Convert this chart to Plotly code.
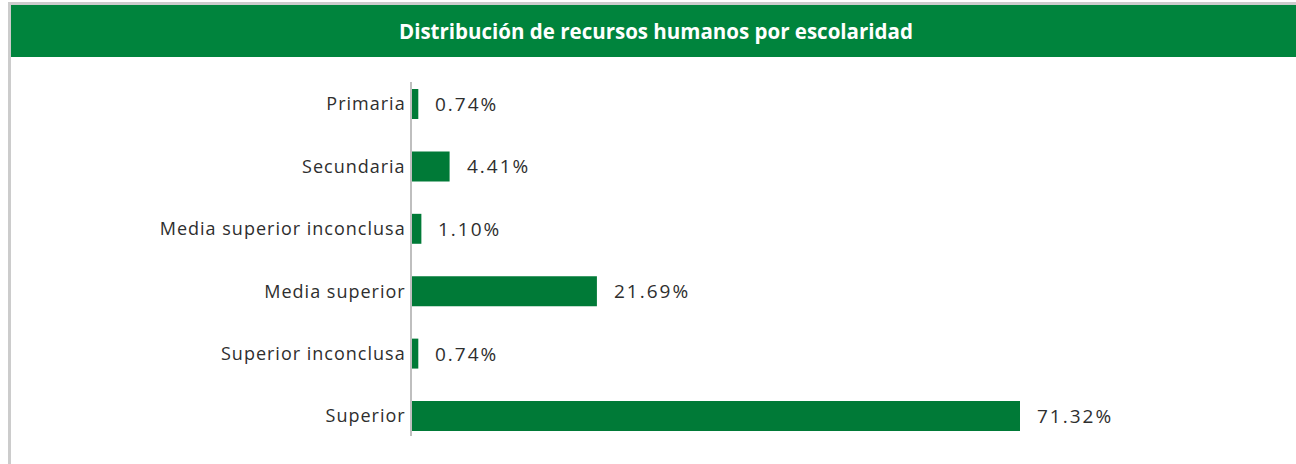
import plotly.graph_objects as go

# Human resources by education level (percent of staff)
categories = [
    "Primaria",
    "Secundaria",
    "Media superior inconclusa",
    "Media superior",
    "Superior inconclusa",
    "Superior",
]
values = [0.74, 4.41, 1.10, 21.69, 0.74, 71.32]
value_labels = ["0.74%", "4.41%", "1.10%", "21.69%", "0.74%", "71.32%"]
title_text = "Distribución de recursos humanos por escolaridad"

W, H = 1296, 464
M_L, M_R, M_T, M_B = 412, 96, 82, 28
PLOT_W = W - M_L - M_R
PLOT_H = H - M_T - M_B

BAR_GREEN = "#007a37"
HEAD_GREEN = "#00843d"
FRAME_GRAY = "#cccccc"
TEXT = "#2e2e2e"
FONT = "Open Sans"


def px_x(p):
    return (p - M_L) / PLOT_W


def px_y(p):
    return 1 - (p - M_T) / PLOT_H


def spaced(s, px):
    return f'<span style="letter-spacing:{px}px">{s}</span>'


fig = go.Figure(
    go.Bar(
        x=values,
        y=categories,
        orientation="h",
        marker=dict(color=BAR_GREEN, line=dict(width=0)),
        width=0.48,
        hoverinfo="skip",
    )
)

# value labels to the right of each bar
for cat, v, lab in zip(categories, values, value_labels):
    fig.add_annotation(
        x=v, y=cat, text=spaced(lab, 2), showarrow=False,
        xanchor="left", yanchor="middle", xshift=15,
        font=dict(family=FONT, size=19, color=TEXT),
    )

shapes = [
    # outer frame: left and top gray edges
    dict(type="rect", xref="paper", yref="paper",
         x0=px_x(8), x1=px_x(11), y0=px_y(464), y1=px_y(2),
         fillcolor=FRAME_GRAY, line=dict(width=0), layer="below"),
    dict(type="rect", xref="paper", yref="paper",
         x0=px_x(8), x1=px_x(1296), y0=px_y(5), y1=px_y(2),
         fillcolor=FRAME_GRAY, line=dict(width=0), layer="below"),
    # green header band
    dict(type="rect", xref="paper", yref="paper",
         x0=px_x(11), x1=px_x(1296), y0=px_y(57), y1=px_y(5),
         fillcolor=HEAD_GREEN, line=dict(width=0), layer="below"),
]

fig.add_annotation(
    xref="paper", yref="paper",
    x=px_x(656), y=px_y(31),
    text="<b>" + title_text + "</b>", showarrow=False,
    xanchor="center", yanchor="middle",
    font=dict(family=FONT, size=20.5, color="white"),
)

fig.update_layout(
    width=W, height=H,
    margin=dict(l=M_L, r=M_R, t=M_T, b=M_B),
    paper_bgcolor="white", plot_bgcolor="white",
    showlegend=False,
    shapes=shapes,
    bargap=0.52,
    xaxis=dict(
        range=[0, PLOT_W / (608 / 71.32)],
        showgrid=False, zeroline=False, showticklabels=False,
        showline=False, ticks="", fixedrange=True,
    ),
    yaxis=dict(
        type="category",
        range=[(436 - 104) / 62.4, -(104 - 82) / 62.4],
        tickmode="array",
        tickvals=categories,
        ticktext=[spaced(c, 1) for c in categories],
        showgrid=False, zeroline=False,
        showline=True, linecolor="#bfbfbf", linewidth=1.5,
        ticks="", ticklabelstandoff=1,
        tickfont=dict(family=FONT, size=18, color=TEXT),
        fixedrange=True,
    ),
)

fig.write_html("out.html")
